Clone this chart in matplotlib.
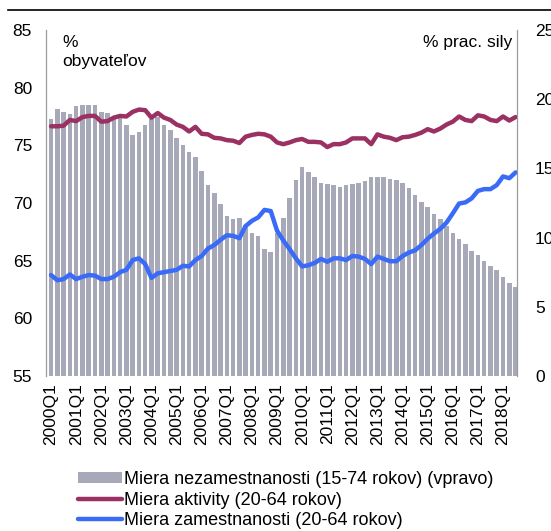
import matplotlib
matplotlib.use('Agg')
import matplotlib.pyplot as plt
from matplotlib.lines import Line2D
import numpy as np

plt.rcParams['font.family'] = ['Liberation Sans', 'DejaVu Sans']

# quarterly data 2000Q1 - 2018Q3
years = list(range(2000, 2019))
quarters = [f'{y}Q{q}' for y in years for q in range(1, 5)][:75]

unemployment = [18.6, 19.3, 19.1, 18.95, 19.5, 19.6, 19.6, 19.6, 19.1, 19.0,
                18.8, 18.7, 18.1, 17.4, 17.6, 18.1, 18.6, 18.7, 18.1,
                17.8, 17.2, 16.7, 16.2, 15.8, 14.8, 13.8, 13.2, 12.45,
                11.56, 11.34, 11.44, 10.9, 10.36, 10.14, 9.15, 8.93, 10.3, 11.44,
                12.87, 14.16,
                15.07, 14.76, 14.35, 13.97, 13.85, 13.77, 13.65, 13.77, 13.87,
                13.97, 14.07, 14.35, 14.35, 14.35, 14.23, 14.14,
                13.97, 13.56, 13.08, 12.55, 12.23, 11.68, 11.34, 10.86, 10.36,
                9.88, 9.54, 9.05, 8.74, 8.33, 7.95, 7.64, 7.13, 6.74, 6.45]

activity = [76.65, 76.65, 76.7, 77.2, 77.1, 77.45, 77.55, 77.55, 77.05, 77.1,
            77.4, 77.55, 77.5, 77.9, 78.1, 78.05, 77.4, 77.8, 77.4,
            77.2, 76.8, 76.6, 76.2, 76.6, 76.0, 75.95, 75.65, 75.6, 75.45,
            75.4, 75.2, 75.75, 75.9, 76.0, 75.95, 75.75, 75.25, 75.1,
            75.25, 75.45, 75.55, 75.3, 75.3, 75.25, 74.85, 75.1, 75.1, 75.25,
            75.6, 75.6, 75.6, 75.1, 75.95, 75.75, 75.65, 75.45, 75.7,
            75.75, 75.9, 76.1, 76.4, 76.2, 76.45, 76.8, 77.05, 77.5, 77.2,
            77.1, 77.6, 77.5, 77.2, 77.1, 77.5, 77.15, 77.45]

employment = [63.75, 63.3, 63.4, 63.8, 63.4, 63.6, 63.75, 63.7, 63.4, 63.4,
              63.6, 64.0, 64.2, 65.05, 65.2, 64.7, 63.5, 63.9, 64.0,
              64.1, 64.2, 64.55, 64.5, 65.05, 65.4, 66.05, 66.35, 66.8, 67.2,
              67.15, 66.95, 68.0, 68.45, 68.75, 69.4, 69.3, 67.6, 66.75,
              66.0, 65.2, 64.5, 64.6, 64.8, 65.15, 64.9, 65.2, 65.2, 65.05,
              65.4, 65.35, 65.15, 64.7, 65.35, 65.15, 64.95, 64.95, 65.4,
              65.7, 65.9, 66.35, 66.9, 67.35, 67.75, 68.3, 69.1, 69.95, 70.05,
              70.4, 71.05, 71.2, 71.2, 71.55, 72.3, 72.15, 72.65]

bar_color = '#A7A9B9'
act_color = '#9B3162'
emp_color = '#3A6AF8'

x = np.arange(len(quarters))

fig = plt.figure(figsize=(5.51, 5.31), dpi=100)
ax = fig.add_axes([0.0835, 0.292, 0.8545, 0.6515])

# bars on the right-hand scale (drawn first, below the lines)
ax.bar(x, unemployment, width=0.72, color=bar_color, zorder=1,
       label='Miera nezamestnanosti (15-74 rokov) (vpravo)')
ax.set_ylim(0, 25)
ax.set_yticks(range(0, 26, 5))
ax.set_xlim(-0.8, len(quarters) - 0.8)
ax.set_xticks(x[::4])
ax.set_xticklabels(quarters[::4], rotation=90)

axl = ax.twinx()
axl.yaxis.tick_left()
ax.yaxis.tick_right()
axl.plot(x, activity, color=act_color, lw=3.2, solid_capstyle='round',
         solid_joinstyle='round', label='Miera aktivity (20-64 rokov)')
axl.plot(x, employment, color=emp_color, lw=3.2, solid_capstyle='round',
         solid_joinstyle='round', label='Miera zamestnanosti (20-64 rokov)')
axl.set_ylim(55, 85)
axl.set_yticks(range(55, 86, 5))

for a in (ax, axl):
    a.tick_params(length=0, labelsize=12.5, pad=10)
    a.spines['top'].set_visible(False)
    a.spines['bottom'].set_visible(False)
    a.spines['left'].set_color('#9A9A9A')
    a.spines['right'].set_color('#9A9A9A')
ax.tick_params(axis='y', pad=13)
ax.tick_params(axis='x', pad=5)

axl.text(0.035, 0.985, '%\nobyvateľov', transform=axl.transAxes, ha='left',
         va='top', fontsize=12.5, linespacing=1.35)
axl.text(0.99, 0.985, '% prac. sily', transform=axl.transAxes, ha='right',
         va='top', fontsize=12.5)

# top rule
fig.add_artist(Line2D([0.015, 1.0], [0.982, 0.982], color='black', lw=1.2,
                      transform=fig.transFigure))

h1, l1 = ax.get_legend_handles_labels()
h2, l2 = axl.get_legend_handles_labels()
fig.legend(h1 + h2, l1 + l2, loc='upper left', bbox_to_anchor=(0.142, 0.113),
           frameon=False, fontsize=13, handlelength=2.4, handleheight=0.5,
           handletextpad=0.15, labelspacing=0.2, borderpad=0,
           borderaxespad=0)

fig.savefig('out.png', dpi=100)
